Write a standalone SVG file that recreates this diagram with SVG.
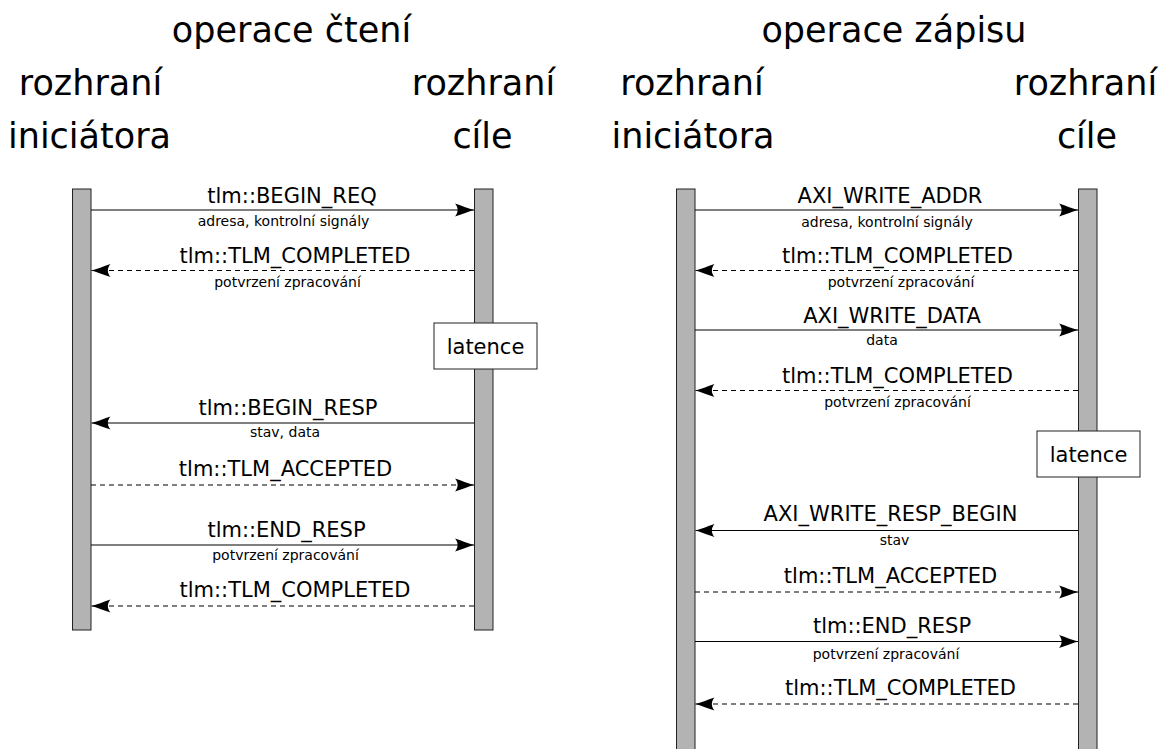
<svg xmlns="http://www.w3.org/2000/svg" width="1173" height="749" viewBox="0 0 1173 749">
  <style>
    text { font-family: "DejaVu Sans", "Liberation Sans", sans-serif; fill: #000; text-anchor: middle; }
    .title { font-size: 35px; }
    .msg { font-size: 21px; }
    .note { font-size: 14px; }
    .lifeline { fill: #b3b3b3; stroke: #222; stroke-width: 1; }
    .box { fill: #fff; stroke: #222; stroke-width: 1; }
    .call { stroke: #000; stroke-width: 1.2; fill: none; marker-end: url(#head); }
    .reply { stroke: #000; stroke-width: 1.2; fill: none; stroke-dasharray: 5 4; marker-end: url(#head); }
  </style>
  <defs>
    <marker id="head" markerUnits="userSpaceOnUse" markerWidth="22" markerHeight="16" viewBox="-20 -8 22 16" refX="0" refY="0" orient="auto">
      <path d="M0,0 C-5,-1.5 -12,-4 -19,-6.5 C-15.5,-2.5 -15.5,2.5 -19,6.5 C-12,4 -5,1.5 0,0 Z" fill="#000"/>
    </marker>
  </defs>

  <rect width="1173" height="749" fill="#fff"/>

  <!-- read operation -->
  <g id="read-title">
    <text class="title" x="291.5" y="42">operace čtení</text>
  </g>
  <g id="read-initiator">
    <text class="title" x="90.5" y="95">rozhraní</text>
    <text class="title" x="89.5" y="148">iniciátora</text>
    <rect class="lifeline" x="72.5" y="189" width="18.5" height="441"/>
  </g>
  <g id="read-target">
    <text class="title" x="483.5" y="95">rozhraní</text>
    <text class="title" x="482.5" y="148">cíle</text>
    <rect class="lifeline" x="474.5" y="189" width="18.5" height="441"/>
  </g>
  <g id="read-latency">
    <rect class="box" x="434" y="323" width="103" height="46"/>
    <text class="msg" x="485.5" y="354">latence</text>
  </g>

  <!-- write operation -->
  <g id="write-title">
    <text class="title" x="894" y="42">operace zápisu</text>
  </g>
  <g id="write-initiator">
    <text class="title" x="692" y="95">rozhraní</text>
    <text class="title" x="693" y="148">iniciátora</text>
    <rect class="lifeline" x="676.5" y="189" width="18.5" height="562"/>
  </g>
  <g id="write-target">
    <text class="title" x="1085.5" y="95">rozhraní</text>
    <text class="title" x="1087" y="148">cíle</text>
    <rect class="lifeline" x="1078.5" y="189" width="18.5" height="562"/>
  </g>
  <g id="write-latency">
    <rect class="box" x="1037" y="431" width="103" height="46"/>
    <text class="msg" x="1088.5" y="462">latence</text>
  </g>

  <g id="connectors">
    <!-- read -->
    <line class="call" x1="91" y1="210" x2="474" y2="210"/>
    <text class="msg" x="292" y="203">tlm::BEGIN_REQ</text>
    <text class="note" x="283.5" y="226">adresa, kontrolní signály</text>

    <line class="reply" x1="474" y1="270.5" x2="91.5" y2="270.5"/>
    <text class="msg" x="295" y="263">tlm::TLM_COMPLETED</text>
    <text class="note" x="287.5" y="287">potvrzení zpracování</text>

    <line class="call" x1="474" y1="423" x2="91.5" y2="423"/>
    <text class="msg" x="288" y="415">tlm::BEGIN_RESP</text>
    <text class="note" x="285" y="437">stav, data</text>

    <line class="reply" x1="91" y1="485" x2="474" y2="485"/>
    <text class="msg" x="285.5" y="476">tlm::TLM_ACCEPTED</text>

    <line class="call" x1="91" y1="545" x2="474" y2="545"/>
    <text class="msg" x="286.5" y="537">tlm::END_RESP</text>
    <text class="note" x="285.5" y="560">potvrzení zpracování</text>

    <line class="reply" x1="474" y1="606" x2="91.5" y2="606"/>
    <text class="msg" x="295" y="597">tlm::TLM_COMPLETED</text>

    <!-- write -->
    <line class="call" x1="695" y1="210" x2="1078" y2="210"/>
    <text class="msg" x="890" y="203">AXI_WRITE_ADDR</text>
    <text class="note" x="887" y="227">adresa, kontrolní signály</text>

    <line class="reply" x1="1078" y1="270.5" x2="695.5" y2="270.5"/>
    <text class="msg" x="897.5" y="263">tlm::TLM_COMPLETED</text>
    <text class="note" x="901" y="287">potvrzení zpracování</text>

    <line class="call" x1="695" y1="330" x2="1078" y2="330"/>
    <text class="msg" x="892" y="323">AXI_WRITE_DATA</text>
    <text class="note" x="882" y="345">data</text>

    <line class="reply" x1="1078" y1="390.5" x2="695.5" y2="390.5"/>
    <text class="msg" x="897.5" y="383">tlm::TLM_COMPLETED</text>
    <text class="note" x="897.5" y="407">potvrzení zpracování</text>

    <line class="call" x1="1078" y1="530.5" x2="695.5" y2="530.5"/>
    <text class="msg" x="890.5" y="521">AXI_WRITE_RESP_BEGIN</text>
    <text class="note" x="894.5" y="545">stav</text>

    <line class="reply" x1="695" y1="592" x2="1078" y2="592"/>
    <text class="msg" x="890.5" y="583">tlm::TLM_ACCEPTED</text>

    <line class="call" x1="695" y1="641.5" x2="1078" y2="641.5"/>
    <text class="msg" x="892" y="633">tlm::END_RESP</text>
    <text class="note" x="886" y="659">potvrzení zpracování</text>

    <line class="reply" x1="1078" y1="704" x2="695.5" y2="704"/>
    <text class="msg" x="900.5" y="695">tlm::TLM_COMPLETED</text>
  </g>
</svg>
